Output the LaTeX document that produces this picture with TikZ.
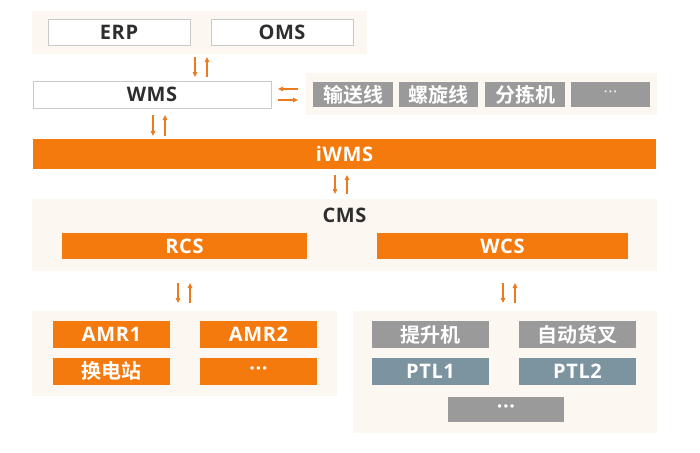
\documentclass[tikz,border=0pt]{standalone}
\usepackage{fontspec}
\setmainfont{Open Sans}[LetterSpace=3]
\newfontfamily\cjk{Noto Sans CJK SC}[BoldFont={* Bold}]
\usetikzlibrary{arrows.meta}
\definecolor{orng}{HTML}{F57A0E}
\definecolor{arrc}{HTML}{EC7A1E}
\definecolor{panelbg}{HTML}{FCF7F0}
\definecolor{grayb}{HTML}{9A9A9A}
\definecolor{slate}{HTML}{7C949F}
\definecolor{bordr}{HTML}{C9C9C9}
\definecolor{txt}{HTML}{2E2E2E}
\tikzset{
  panel/.style={fill=panelbg, draw=none, inner sep=0, rectangle},
  boxbase/.style={rectangle, inner sep=0, font=\fontsize{20}{20}\selectfont\bfseries},
  whitebox/.style={boxbase, fill=white, draw=bordr, line width=0.8pt, text=txt},
  orangebox/.style={boxbase, fill=orng, draw=none, text=white},
  graybox/.style={boxbase, fill=grayb, draw=none, text=white},
  slatebox/.style={boxbase, fill=slate, draw=none, text=white},
  arr/.style={draw=arrc, line width=1.4pt, -{Triangle[length=5pt,width=4.5pt]}},
}
\newcommand\dotsmark{\fontsize{20}{20}\selectfont\bfseries···}
\begin{document}
\begin{tikzpicture}[x=1pt,y=-1pt]
\useasboundingbox (0,0) rectangle (700,452);
% top panel
\node[panel, minimum width=335, minimum height=43] (toppanel) at (199.5,32.5) {};
\node[whitebox, minimum width=142, minimum height=26] (erp) at (119,32) {ERP};
\node[whitebox, minimum width=142, minimum height=26] (oms) at (282,32) {OMS};
% WMS
\node[whitebox, minimum width=238, minimum height=27] (wms) at (152,94.5) {WMS};
% right equipment panel
\node[panel, minimum width=351, minimum height=42] (eqpanel) at (481.5,94) {};
\node[graybox, minimum width=80, minimum height=25] (conv) at (353,94.5) {\cjk\bfseries 输送线};
\node[graybox, minimum width=79, minimum height=25] (spiral) at (438.5,94.5) {\cjk\bfseries 螺旋线};
\node[graybox, minimum width=80, minimum height=25] (sorter) at (525,94.5) {\cjk\bfseries 分拣机};
\node[graybox, minimum width=79, minimum height=25, text=white!88!grayb] (eqmore) at (610.5,94.5) {\fontsize{16}{16}\selectfont\mdseries···};
% iWMS
\node[orangebox, minimum width=623, minimum height=30] (iwms) at (344.5,154) {iWMS};
% CMS panel
\node[panel, minimum width=625, minimum height=72] (cmspanel) at (344.5,235) {};
\node[boxbase, text=txt] (cms) at (344.5,215) {CMS};
\node[orangebox, minimum width=245, minimum height=26] (rcs) at (184.5,246) {RCS};
\node[orangebox, minimum width=251, minimum height=26] (wcs) at (502.5,246) {WCS};
% bottom left panel
\node[panel, minimum width=305, minimum height=85] (robpanel) at (184.5,353.5) {};
\node[orangebox, minimum width=117, minimum height=27] (amr1) at (111.5,334.5) {AMR1};
\node[orangebox, minimum width=117, minimum height=27] (amr2) at (258.5,334.5) {AMR2};
\node[orangebox, minimum width=117, minimum height=27] (station) at (111.5,371) {\cjk\bfseries 换电站};
\node[orangebox, minimum width=117, minimum height=27] (robmore) at (258.5,371) {\dotsmark};
% bottom right panel
\node[panel, minimum width=304, minimum height=122] (devpanel) at (505,372) {};
\node[graybox, minimum width=117, minimum height=27] (lift) at (430.5,334.5) {\cjk\bfseries 提升机};
\node[graybox, minimum width=117, minimum height=27] (fork) at (577.5,334.5) {\cjk\bfseries 自动货叉};
\node[slatebox, minimum width=117, minimum height=27] (ptl1) at (430.5,371) {PTL1};
\node[slatebox, minimum width=117, minimum height=27] (ptl2) at (577.5,371) {PTL2};
\node[graybox, minimum width=116, minimum height=25] (devmore) at (506,409.5) {\dotsmark};
% arrow endpoints
\coordinate (a1s) at (195,57); \coordinate (a1e) at (195,77);
\coordinate (a2s) at (207,77); \coordinate (a2e) at (207,57);
\coordinate (b1s) at (298,89); \coordinate (b1e) at (278,89);
\coordinate (b2s) at (278,100); \coordinate (b2e) at (298,100);
\coordinate (c1s) at (153,115); \coordinate (c1e) at (153,136);
\coordinate (c2s) at (165,136); \coordinate (c2e) at (165,115);
\coordinate (d1s) at (335,175); \coordinate (d1e) at (335,194);
\coordinate (d2s) at (347,194); \coordinate (d2e) at (347,175);
\coordinate (e1s) at (178,283); \coordinate (e1e) at (178,303);
\coordinate (e2s) at (190,303); \coordinate (e2e) at (190,283);
\coordinate (f1s) at (503,283); \coordinate (f1e) at (503,303);
\coordinate (f2s) at (515,303); \coordinate (f2e) at (515,283);
\draw[arr] (a1s) -- (a1e); \draw[arr] (a2s) -- (a2e);
\draw[arr] (b1s) -- (b1e); \draw[arr] (b2s) -- (b2e);
\draw[arr] (c1s) -- (c1e); \draw[arr] (c2s) -- (c2e);
\draw[arr] (d1s) -- (d1e); \draw[arr] (d2s) -- (d2e);
\draw[arr] (e1s) -- (e1e); \draw[arr] (e2s) -- (e2e);
\draw[arr] (f1s) -- (f1e); \draw[arr] (f2s) -- (f2e);
\end{tikzpicture}
\end{document}
